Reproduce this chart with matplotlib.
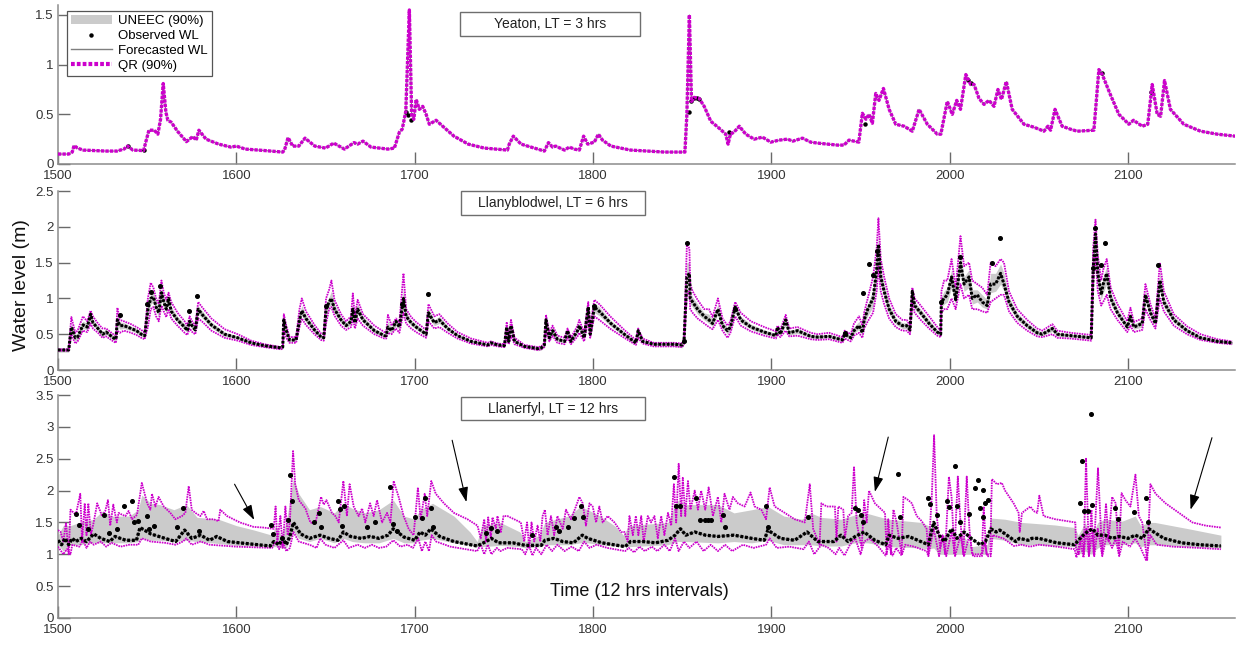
import matplotlib
matplotlib.use('Agg')
import matplotlib.pyplot as plt
from matplotlib.patches import Rectangle, Patch
from matplotlib.lines import Line2D
from matplotlib.ticker import FuncFormatter

plt.rcParams['font.family'] = ['Liberation Sans', 'DejaVu Sans']

# ---------------- Yeaton, LT = 3 hrs ----------------
yea_t = [1500, 1506, 1508, 1509, 1511, 1514, 1520, 1527, 1533, 1537, 1539, 1542, 1548, 1549.5,
         1551, 1554, 1556, 1557.5, 1559, 1560.5, 1561.6, 1563.5, 1567, 1572, 1575.6, 1577.5,
         1579, 1583, 1590, 1597, 1600, 1605, 1616, 1626, 1627, 1629, 1631.6, 1635, 1638.5,
         1644, 1650, 1654.6, 1660.6, 1666, 1668, 1671, 1675.5, 1685, 1688.6, 1691.4, 1693,
         1695, 1697, 1698.3, 1699.5, 1700.8, 1702.6, 1704.5, 1706.4, 1708.2, 1712, 1715.7,
         1722, 1730, 1739, 1752, 1753, 1755.3, 1759.6, 1769, 1772.7, 1775, 1777.3, 1779,
         1784, 1786.7, 1789.5, 1792.3, 1794.7, 1797, 1800.7, 1803, 1805.3, 1810, 1821, 1840,
         1851.5, 1852.6, 1854, 1855.2, 1856.7, 1859.5, 1862.3, 1866, 1870.7, 1874.4, 1875.7,
         1877, 1879, 1882, 1885.6, 1890.3, 1895, 1899.6, 1904.3, 1909, 1912, 1917.4, 1922,
         1926, 1937, 1940.7, 1943.5, 1949, 1951, 1953, 1954.7, 1956.6, 1958.5, 1960.3, 1962.8,
         1966, 1969.7, 1974.4, 1979, 1982.8, 1987.4, 1993, 1995, 1998.6, 2001.4, 2003.9, 2006,
         2009, 2011.7, 2013.6, 2016.4, 2019.2, 2022, 2024.8, 2027, 2029, 2031.7, 2035, 2041.6,
         2047.2, 2052.8, 2055, 2056.5, 2059, 2063, 2067.7, 2071.5, 2080.8, 2083.6, 2085.5,
         2090, 2094.8, 2100.4, 2103, 2107.9, 2111, 2113.5, 2116.3, 2118.2, 2120.4, 2123.7,
         2131.2, 2140.6, 2150, 2160]
yea_wl = [0.10, 0.10, 0.12, 0.185, 0.16, 0.14, 0.135, 0.13, 0.13, 0.15, 0.18, 0.14, 0.135, 0.24,
          0.34, 0.34, 0.30, 0.45, 0.81, 0.52, 0.44, 0.42, 0.33, 0.225, 0.276, 0.24,
          0.34, 0.25, 0.20, 0.17, 0.18, 0.15, 0.135, 0.12, 0.14, 0.266, 0.18, 0.18, 0.26,
          0.18, 0.16, 0.21, 0.15, 0.215, 0.20, 0.23, 0.17, 0.15, 0.16, 0.32, 0.35,
          0.53, 1.55, 0.49, 0.45, 0.65, 0.55, 0.58, 0.50, 0.40, 0.44, 0.38,
          0.28, 0.20, 0.16, 0.14, 0.20, 0.28, 0.20, 0.15, 0.13, 0.215, 0.17, 0.18,
          0.14, 0.17, 0.15, 0.14, 0.28, 0.20, 0.22, 0.30, 0.24, 0.18, 0.14, 0.12,
          0.12, 0.50, 1.50, 0.63, 0.67, 0.66, 0.58, 0.43, 0.36, 0.30, 0.20,
          0.30, 0.32, 0.38, 0.30, 0.25, 0.27, 0.22, 0.24, 0.25, 0.23, 0.26, 0.22,
          0.21, 0.19, 0.19, 0.24, 0.22, 0.51, 0.45, 0.50, 0.41, 0.71, 0.64, 0.76,
          0.55, 0.40, 0.38, 0.33, 0.55, 0.40, 0.30, 0.30, 0.63, 0.50, 0.64, 0.55,
          0.90, 0.80, 0.80, 0.66, 0.60, 0.64, 0.58, 0.75, 0.65, 0.83, 0.55, 0.40,
          0.37, 0.33, 0.38, 0.34, 0.55, 0.38, 0.35, 0.33, 0.34, 0.95, 0.90,
          0.70, 0.50, 0.40, 0.44, 0.38, 0.40, 0.80, 0.50, 0.48, 0.84, 0.55,
          0.40, 0.33, 0.30, 0.28]
# observed points that sit off the forecast track
yea_obs_t = [1539, 1548, 1695, 1696.1, 1698, 1853.9, 1854.8, 1856.5, 1858, 1859.5, 1876,
             1952.5, 2010, 2012, 2085.5, 2113]
yea_obs = [0.18, 0.14, 0.52, 0.49, 0.44, 0.52, 0.63, 0.66, 0.66, 0.65, 0.32,
           0.40, 0.85, 0.82, 0.92, 0.72]

# ---------------- Llanyblodwel, LT = 6 hrs ----------------
mid_t = [1500, 1506, 1507.5, 1509.7, 1511, 1514, 1516.4, 1518.3, 1519.6, 1522.4, 1525, 1527,
         1531, 1532.5, 1533.3, 1534.7, 1537, 1541, 1544, 1546.7, 1548.6, 1550.4, 1552, 1553.5,
         1555, 1556.5, 1558, 1559.3, 1560.7, 1562, 1563.5, 1567, 1571, 1572.5, 1573.8, 1575.6,
         1577, 1578.6, 1580.7, 1586, 1593.4, 1600.8, 1608.3, 1615.8, 1625, 1626, 1626.6, 1628,
         1629.8, 1633.5, 1635.4, 1636.7, 1639, 1643.8, 1647.5, 1649, 1650.3, 1652, 1653.3,
         1655, 1658.7, 1661.5, 1664.3, 1665.3, 1666.5, 1668, 1671, 1677.4, 1683, 1684, 1685,
         1687, 1689.5, 1691.4, 1693.7, 1695.2, 1698, 1700.8, 1706.4, 1707.7, 1711, 1713.8,
         1718.5, 1724, 1731.6, 1741, 1742.8, 1746.5, 1750.3, 1751.6, 1752.7, 1754, 1756,
         1761.5, 1769, 1771, 1772.7, 1773.6, 1775.5, 1777.3, 1780, 1784, 1785.7, 1787.6,
         1791.3, 1792.3, 1795, 1797.3, 1798.4, 1800.7, 1803.5, 1810, 1817.5, 1824, 1825.3,
         1827.8, 1834, 1840, 1845.5, 1850, 1851, 1852.6, 1854, 1854.5, 1855.8, 1858.6, 1862.3,
         1865, 1867, 1870, 1872.6, 1875.4, 1877, 1879.7, 1882.8, 1888.5, 1896, 1902.5, 1903.4,
         1905, 1908, 1910, 1914.6, 1922, 1925.8, 1932.3, 1939.8, 1941.1, 1944.5, 1946.3,
         1949.1, 1951, 1952, 1954, 1957, 1959, 1960, 1961.3, 1963.2, 1966, 1969.7, 1973.4,
         1975.8, 1977.7, 1979, 1980.3, 1983.7, 1988.4, 1993, 1994.9, 1995.3, 1996.8, 1998.6,
         2001, 2003.3, 2006, 2008, 2010.8, 2012.6, 2015.4, 2018.2, 2021, 2022.9, 2025.7,
         2028.5, 2030.4, 2033.2, 2037.8, 2043.4, 2049, 2051.9, 2057.5, 2060.3, 2067.7, 2075.2,
         2079.3, 2080.4, 2081.7, 2083, 2084.9, 2086, 2088, 2090.2, 2094, 2099.5, 2101.3,
         2103.2, 2107.9, 2109.7, 2112.5, 2115.3, 2117.8, 2120, 2125.6, 2133, 2140.6, 2150,
         2158.3]
mid_wl = [0.28, 0.28, 0.60, 0.45, 0.46, 0.63, 0.60, 0.78, 0.66, 0.58, 0.50, 0.53,
          0.45, 0.43, 0.70, 0.62, 0.62, 0.58, 0.55, 0.50, 0.48, 0.85, 1.00, 1.02,
          0.88, 0.80, 1.08, 0.95, 0.85, 1.00, 0.82, 0.70, 0.60, 0.55, 0.68, 0.60,
          0.56, 0.85, 0.78, 0.63, 0.50, 0.45, 0.38, 0.34, 0.31, 0.32, 0.70, 0.55,
          0.42, 0.42, 0.70, 0.83, 0.72, 0.56, 0.46, 0.45, 0.85, 0.95, 1.00,
          0.85, 0.70, 0.62, 0.68, 0.85, 0.66, 0.85, 0.70, 0.55, 0.48, 0.48, 0.60,
          0.55, 0.68, 0.60, 1.00, 0.75, 0.66, 0.60, 0.50, 0.80, 0.66, 0.70,
          0.58, 0.48, 0.40, 0.35, 0.38, 0.35, 0.34, 0.60, 0.40, 0.62, 0.40,
          0.33, 0.30, 0.31, 0.35, 0.70, 0.45, 0.55, 0.43, 0.40, 0.55, 0.40,
          0.55, 0.62, 0.45, 0.88, 0.50, 0.88, 0.82, 0.65, 0.50, 0.38, 0.55,
          0.40, 0.36, 0.36, 0.36, 0.35, 0.40, 1.30, 1.35, 1.00, 0.95, 0.85, 0.75,
          0.70, 0.65, 0.85, 0.62, 0.55, 0.60, 0.88, 0.70, 0.60, 0.53, 0.48, 0.60,
          0.50, 0.70, 0.52, 0.55, 0.47, 0.46, 0.47, 0.42, 0.50, 0.45, 0.55,
          0.62, 0.52, 0.70, 0.85, 1.00, 1.40, 1.75, 1.30, 1.10, 0.85, 0.68, 0.62,
          0.62, 0.56, 1.10, 0.90, 0.80, 0.65, 0.53, 0.50, 0.95, 1.00, 1.05,
          1.30, 0.98, 1.50, 1.20, 1.30, 1.00, 1.05, 0.95, 0.90, 1.20, 1.20,
          1.35, 1.20, 0.95, 0.75, 0.62, 0.52, 0.50, 0.58, 0.50, 0.48, 0.46,
          0.45, 1.40, 1.90, 1.35, 1.05, 1.20, 1.35, 1.00, 0.80, 0.60, 0.75,
          0.60, 0.65, 1.05, 0.80, 0.65, 1.25, 0.95, 0.70, 0.55, 0.45, 0.40,
          0.38]
mid_qr_lo = [0.27, 0.27, 0.50, 0.37, 0.40, 0.55, 0.53, 0.65, 0.58, 0.52, 0.45, 0.47,
             0.40, 0.38, 0.55, 0.52, 0.55, 0.52, 0.49, 0.45, 0.43, 0.60, 0.85, 0.88,
             0.75, 0.68, 0.90, 0.82, 0.74, 0.85, 0.72, 0.62, 0.52, 0.49, 0.58, 0.52,
             0.50, 0.72, 0.68, 0.55, 0.45, 0.41, 0.35, 0.32, 0.29, 0.30, 0.55, 0.45,
             0.38, 0.38, 0.60, 0.72, 0.63, 0.50, 0.42, 0.41, 0.65, 0.85, 0.88,
             0.76, 0.62, 0.56, 0.60, 0.72, 0.58, 0.72, 0.62, 0.50, 0.44, 0.44, 0.52,
             0.50, 0.58, 0.52, 0.80, 0.65, 0.58, 0.53, 0.45, 0.68, 0.58, 0.60,
             0.52, 0.44, 0.37, 0.33, 0.35, 0.33, 0.32, 0.45, 0.36, 0.48, 0.36,
             0.31, 0.28, 0.29, 0.32, 0.55, 0.40, 0.48, 0.38, 0.36, 0.45, 0.36,
             0.47, 0.52, 0.40, 0.70, 0.45, 0.75, 0.70, 0.57, 0.45, 0.35, 0.45,
             0.37, 0.33, 0.33, 0.33, 0.32, 0.36, 1.05, 1.10, 0.85, 0.80, 0.72, 0.65,
             0.60, 0.57, 0.70, 0.55, 0.45, 0.52, 0.75, 0.62, 0.54, 0.48, 0.44, 0.50,
             0.46, 0.55, 0.47, 0.48, 0.43, 0.42, 0.43, 0.38, 0.44, 0.40, 0.48,
             0.52, 0.45, 0.58, 0.68, 0.80, 1.10, 1.45, 1.10, 0.92, 0.72, 0.60, 0.55,
             0.55, 0.50, 0.95, 0.80, 0.70, 0.58, 0.48, 0.46, 0.80, 0.85, 0.85,
             1.00, 0.85, 1.20, 1.00, 1.05, 0.85, 0.85, 0.82, 0.80, 0.95, 1.00,
             1.05, 1.05, 0.82, 0.66, 0.55, 0.47, 0.46, 0.50, 0.45, 0.44, 0.42,
             0.41, 1.20, 1.60, 1.10, 0.90, 0.95, 1.05, 0.85, 0.70, 0.53, 0.62,
             0.53, 0.56, 0.85, 0.70, 0.58, 1.00, 0.82, 0.62, 0.50, 0.42, 0.38,
             0.36]
mid_qr_hi = [0.29, 0.29, 0.74, 0.52, 0.55, 0.75, 0.68, 0.83, 0.75, 0.65, 0.58, 0.58,
             0.50, 0.48, 0.87, 0.70, 0.68, 0.64, 0.60, 0.56, 0.52, 1.00, 1.22, 1.15,
             1.00, 0.92, 1.25, 1.08, 0.98, 1.08, 0.95, 0.80, 0.68, 0.62, 0.75, 0.66,
             0.62, 0.95, 0.88, 0.72, 0.57, 0.50, 0.41, 0.36, 0.32, 0.33, 0.78, 0.62,
             0.46, 0.46, 0.85, 1.00, 0.82, 0.63, 0.51, 0.50, 1.00, 1.12, 1.25,
             0.98, 0.78, 0.68, 0.75, 1.07, 0.75, 0.98, 0.78, 0.62, 0.53, 0.52, 0.77,
             0.62, 0.72, 0.66, 1.35, 0.85, 0.74, 0.67, 0.56, 0.92, 0.75, 0.78,
             0.65, 0.53, 0.44, 0.38, 0.40, 0.37, 0.36, 0.67, 0.45, 0.70, 0.45,
             0.35, 0.32, 0.33, 0.38, 0.77, 0.52, 0.62, 0.48, 0.45, 0.58, 0.45,
             0.62, 0.70, 0.52, 0.95, 0.60, 0.98, 0.92, 0.74, 0.56, 0.42, 0.58,
             0.44, 0.38, 0.38, 0.38, 0.37, 0.45, 1.75, 1.70, 1.20, 1.10, 0.98, 0.85,
             0.85, 0.74, 1.00, 0.72, 0.62, 0.68, 0.95, 0.80, 0.68, 0.60, 0.54, 0.62,
             0.56, 0.77, 0.58, 0.60, 0.52, 0.50, 0.52, 0.46, 0.55, 0.50, 0.65,
             0.75, 0.62, 0.80, 1.00, 1.30, 1.70, 2.12, 1.55, 1.30, 1.00, 0.78, 0.70,
             0.70, 0.62, 1.15, 1.00, 0.90, 0.75, 0.60, 0.55, 1.10, 1.25, 1.25,
             1.55, 1.15, 1.87, 1.45, 1.50, 1.25, 1.20, 1.15, 1.05, 1.50, 1.45,
             1.55, 1.50, 1.10, 0.85, 0.70, 0.58, 0.55, 0.64, 0.55, 0.52, 0.50,
             0.49, 1.70, 2.10, 1.60, 1.25, 1.40, 1.55, 1.15, 0.92, 0.68, 0.87,
             0.67, 0.72, 1.20, 0.92, 0.72, 1.50, 1.10, 0.78, 0.61, 0.50, 0.43,
             0.40]
mid_un_lo = [0.25, 0.25, 0.55, 0.40, 0.42, 0.58, 0.56, 0.70, 0.62, 0.55, 0.47, 0.50,
             0.42, 0.40, 0.62, 0.57, 0.58, 0.55, 0.52, 0.47, 0.45, 0.75, 0.92, 0.95,
             0.82, 0.74, 1.00, 0.88, 0.80, 0.93, 0.78, 0.66, 0.56, 0.52, 0.63, 0.56,
             0.53, 0.78, 0.73, 0.59, 0.47, 0.43, 0.36, 0.32, 0.29, 0.30, 0.62, 0.50,
             0.40, 0.40, 0.65, 0.76, 0.67, 0.53, 0.44, 0.43, 0.75, 0.88, 0.92,
             0.80, 0.66, 0.59, 0.64, 0.78, 0.62, 0.78, 0.66, 0.52, 0.46, 0.46, 0.56,
             0.52, 0.62, 0.56, 0.90, 0.70, 0.62, 0.57, 0.47, 0.74, 0.62, 0.65,
             0.55, 0.46, 0.38, 0.34, 0.36, 0.34, 0.33, 0.52, 0.38, 0.55, 0.38,
             0.32, 0.27, 0.28, 0.33, 0.62, 0.42, 0.51, 0.40, 0.38, 0.50, 0.38,
             0.51, 0.57, 0.42, 0.78, 0.47, 0.80, 0.76, 0.61, 0.47, 0.36, 0.50,
             0.38, 0.34, 0.34, 0.33, 0.31, 0.37, 1.15, 1.20, 0.92, 0.88, 0.78, 0.70,
             0.65, 0.61, 0.78, 0.58, 0.50, 0.56, 0.80, 0.66, 0.57, 0.50, 0.46, 0.55,
             0.48, 0.62, 0.49, 0.51, 0.45, 0.44, 0.45, 0.40, 0.47, 0.43, 0.51,
             0.57, 0.48, 0.64, 0.76, 0.88, 1.25, 1.58, 1.20, 1.00, 0.78, 0.64, 0.58,
             0.58, 0.53, 1.02, 0.85, 0.75, 0.61, 0.50, 0.48, 0.88, 0.92, 0.95,
             1.15, 0.90, 1.35, 1.10, 1.15, 0.92, 0.95, 0.88, 0.85, 1.08, 1.10,
             1.20, 1.10, 0.88, 0.70, 0.58, 0.49, 0.48, 0.54, 0.47, 0.46, 0.44,
             0.43, 1.30, 1.75, 1.22, 0.98, 1.08, 1.20, 0.92, 0.75, 0.57, 0.68,
             0.57, 0.60, 0.95, 0.75, 0.61, 1.12, 0.88, 0.66, 0.52, 0.43, 0.38,
             0.36]
mid_un_hi = [0.30, 0.30, 0.66, 0.50, 0.50, 0.68, 0.65, 0.80, 0.70, 0.62, 0.54, 0.56,
             0.48, 0.46, 0.80, 0.67, 0.66, 0.61, 0.58, 0.53, 0.51, 0.92, 1.08, 1.08,
             0.95, 0.86, 1.15, 1.02, 0.92, 1.05, 0.88, 0.75, 0.64, 0.59, 0.72, 0.64,
             0.60, 0.90, 0.83, 0.67, 0.53, 0.47, 0.40, 0.36, 0.33, 0.34, 0.76, 0.60,
             0.44, 0.44, 0.78, 0.90, 0.77, 0.60, 0.49, 0.48, 0.92, 1.02, 1.10,
             0.92, 0.74, 0.66, 0.72, 0.95, 0.70, 0.92, 0.75, 0.58, 0.51, 0.50, 0.68,
             0.58, 0.70, 0.64, 1.15, 0.80, 0.70, 0.64, 0.53, 0.86, 0.70, 0.75,
             0.61, 0.50, 0.42, 0.37, 0.39, 0.36, 0.35, 0.64, 0.42, 0.66, 0.42,
             0.34, 0.32, 0.33, 0.37, 0.74, 0.48, 0.59, 0.46, 0.42, 0.57, 0.42,
             0.59, 0.66, 0.48, 0.92, 0.55, 0.94, 0.88, 0.69, 0.53, 0.40, 0.57,
             0.42, 0.38, 0.38, 0.38, 0.37, 0.43, 1.50, 1.50, 1.10, 1.02, 0.92, 0.80,
             0.78, 0.70, 0.92, 0.67, 0.60, 0.64, 0.92, 0.75, 0.64, 0.56, 0.51, 0.62,
             0.53, 0.74, 0.55, 0.58, 0.50, 0.49, 0.50, 0.45, 0.53, 0.48, 0.60,
             0.68, 0.56, 0.76, 0.92, 1.12, 1.55, 1.90, 1.42, 1.20, 0.92, 0.73, 0.66,
             0.66, 0.60, 1.14, 0.95, 0.85, 0.70, 0.56, 0.53, 1.02, 1.10, 1.15,
             1.40, 1.08, 1.65, 1.30, 1.40, 1.12, 1.12, 1.05, 0.98, 1.35, 1.35,
             1.48, 1.35, 1.02, 0.80, 0.66, 0.56, 0.53, 0.62, 0.53, 0.50, 0.49,
             0.48, 1.55, 2.00, 1.48, 1.15, 1.30, 1.45, 1.08, 0.86, 0.64, 0.80,
             0.64, 0.70, 1.12, 0.86, 0.70, 1.38, 1.02, 0.75, 0.58, 0.48, 0.43,
             0.40]
mid_obs_t = [1534.7, 1550, 1552.2, 1557, 1573.5, 1578, 1650, 1692.7, 1707.7, 1800.5, 1851,
             1852.6, 1879.5, 1941.1, 1951.2, 1954.7, 1957, 1959, 1995, 2006, 2023.8, 2028,
             2080.4, 2081.7, 2084.9, 2087, 2116.6]
mid_obs = [0.77, 0.92, 1.09, 1.17, 0.83, 1.03, 0.90, 0.92, 1.06, 0.90, 0.40,
           1.78, 0.85, 0.52, 1.07, 1.48, 1.33, 1.66, 0.95, 1.58, 1.50, 1.84,
           1.42, 1.98, 1.47, 1.78, 1.47]

# ---------------- Llanerfyl, LT = 12 hrs ----------------
ll_t = [1500, 1502, 1504, 1506, 1508, 1510, 1513, 1516, 1520, 1524, 1529, 1532, 1538, 1544,
        1546, 1552, 1560, 1566, 1571, 1575, 1580, 1585, 1589, 1595, 1605, 1612, 1619, 1621,
        1624, 1626, 1628, 1630, 1632, 1636, 1641, 1647, 1652, 1657, 1660, 1664, 1670, 1675,
        1680, 1685, 1688, 1694, 1700, 1703, 1706, 1709, 1714, 1722, 1735, 1740, 1743, 1747,
        1755, 1762, 1771, 1773, 1778, 1783, 1789, 1794, 1797, 1805, 1818, 1821, 1828, 1835,
        1842, 1846, 1849, 1852, 1857, 1863, 1870, 1879, 1889, 1896, 1898, 1905, 1913, 1920,
        1926, 1935, 1939, 1943, 1947, 1952, 1958, 1964, 1966, 1971, 1977, 1988, 1991, 1994,
        1997, 2001, 2004, 2008, 2012, 2017, 2020, 2023, 2026, 2028, 2037, 2039, 2044, 2046,
        2050, 2060, 2070, 2074, 2077, 2080, 2083, 2087, 2091, 2095, 2100, 2104, 2108, 2111.6,
        2120, 2130, 2140, 2152]
ll_wl = [1.22, 1.15, 1.25, 1.15, 1.25, 1.20, 1.25, 1.20, 1.32, 1.25, 1.20, 1.28, 1.22, 1.22,
         1.42, 1.32, 1.25, 1.20, 1.38, 1.25, 1.30, 1.22, 1.28, 1.20, 1.17, 1.15, 1.13, 1.20,
         1.15, 1.25, 1.15, 1.28, 1.50, 1.32, 1.25, 1.30, 1.25, 1.22, 1.35, 1.28, 1.25, 1.28,
         1.25, 1.30, 1.40, 1.27, 1.22, 1.35, 1.30, 1.40, 1.28, 1.20, 1.13, 1.20, 1.25, 1.18,
         1.18, 1.14, 1.14, 1.22, 1.25, 1.20, 1.18, 1.30, 1.25, 1.18, 1.12, 1.20, 1.20, 1.18,
         1.22, 1.30, 1.40, 1.30, 1.35, 1.30, 1.28, 1.30, 1.25, 1.22, 1.38, 1.25, 1.22, 1.35,
         1.20, 1.20, 1.30, 1.20, 1.28, 1.35, 1.22, 1.15, 1.30, 1.25, 1.28, 1.15, 1.50, 1.30,
         1.20, 1.40, 1.25, 1.35, 1.25, 1.15, 1.20, 1.40, 1.35, 1.38, 1.20, 1.25, 1.22, 1.25,
         1.25, 1.18, 1.15, 1.28, 1.35, 1.40, 1.30, 1.30, 1.25, 1.28, 1.25, 1.30, 1.25, 1.40,
         1.25, 1.18, 1.15, 1.13]
ll_qr_hi_t = [1500, 1501.5, 1503, 1504.5, 1506, 1507, 1510, 1512.5, 1513.5, 1515, 1516, 1517,
              1518.5, 1520, 1522, 1524.7, 1526.5, 1528, 1529.3, 1531, 1533, 1534, 1536, 1537.8,
              1539.6, 1541.5, 1544.3, 1547, 1550, 1551.8, 1552.7, 1554.6, 1556.4, 1559.3, 1563,
              1565.8, 1569.5, 1571.4, 1573.3, 1575, 1577, 1579.8, 1581.7, 1583.6, 1587.3, 1590,
              1591, 1594.8, 1602, 1609.7, 1615, 1621, 1622, 1623, 1624.7, 1626, 1627.5, 1628.8,
              1630, 1631.8, 1633, 1635, 1638.7, 1641.5, 1644.3, 1646, 1647.5, 1649, 1650.5,
              1653.6, 1655.5, 1657.4, 1660, 1662, 1663.5, 1665.8, 1668.6, 1670.5, 1672.3, 1675,
              1677, 1678.9, 1681.7, 1684.5, 1686.4, 1688.2, 1691, 1693.8, 1696.6, 1699.4,
              1701.8, 1703.3, 1705.6, 1707, 1709.3, 1711.8, 1716.4, 1722, 1729.6, 1735.2, 1737,
              1739, 1740, 1741.2, 1742.7, 1743.6, 1745.5, 1746.4, 1748.3, 1749.8, 1752, 1755.8,
              1759.5, 1761.4, 1763, 1764.2, 1765.5, 1767, 1768.9, 1770.4, 1771.7, 1773, 1774.5,
              1776.4, 1778.2, 1780, 1783, 1784.8, 1787.6, 1790.4, 1792.3, 1794.2, 1796, 1798,
              1799.8, 1801.7, 1803.5, 1805.4, 1808.2, 1812, 1815.7, 1817.6, 1819.4, 1820.4,
              1822.3, 1824, 1825.4, 1827, 1828.4, 1830.7, 1832.5, 1834.4, 1836.3, 1838.2, 1840,
              1842, 1843.8, 1845.3, 1846.6, 1848, 1849.4, 1850.3, 1851.7, 1853.2, 1854.6, 1857,
              1858.8, 1860.6, 1862.9, 1864.8, 1867.2, 1870, 1871.9, 1873.7, 1876.5, 1878.4,
              1881.2, 1885, 1888.3, 1890.6, 1894.3, 1897, 1899, 1901.8, 1907.5, 1913, 1918.7,
              1921.5, 1923.4, 1927, 1928, 1931, 1935.6, 1936.5, 1937.5, 1940.3, 1941.2, 1943,
              1945, 1946.3, 1947.8, 1949.1, 1950.6, 1952, 1953.4, 1954.7, 1958, 1963.7, 1964.6,
              1965.5, 1967, 1968.4, 1970.2, 1973, 1974, 1976.8, 1978.7, 1981.5, 1984.3, 1987,
              1988, 1989.9, 1991.2, 1992.7, 1994.6, 1995.9, 1997.4, 1999.5, 2001, 2002.6, 2004.5,
              2006, 2007.6, 2009.5, 2011, 2012.5, 2018, 2019, 2020.5, 2022.7, 2023.6, 2026.4,
              2029.2, 2031, 2035.8, 2038.6, 2039.2, 2040.5, 2045.2, 2047, 2049, 2050.2, 2052.6,
              2059.2, 2070.4, 2070.8, 2072.3, 2073.8, 2075.1, 2076.4, 2078, 2079.4, 2080.7,
              2083.1, 2085.4, 2087.6, 2089, 2091, 2093, 2094.8, 2096.3, 2098.5, 2101.3, 2104.1,
              2106, 2107.9, 2110.7, 2112.5, 2115.4, 2121, 2128.5, 2136, 2143.5, 2151.9]
ll_qr_hi = [1.38, 1.35, 1.20, 1.50, 1.00, 1.70, 1.62, 1.95, 1.20, 1.80, 1.30, 1.80,
            1.30, 1.50, 1.80, 1.60, 1.68, 1.85, 1.45, 1.78, 1.50, 1.65, 1.62, 1.60,
            1.68, 1.55, 1.62, 2.12, 1.80, 1.70, 1.95, 1.75, 1.90, 1.75, 1.65,
            1.55, 1.60, 1.65, 2.07, 1.70, 1.65, 1.60, 1.68, 1.55, 1.55, 1.52,
            1.70, 1.60, 1.50, 1.43, 1.42, 1.40, 1.75, 1.20, 1.60, 1.10, 1.75, 1.30,
            1.50, 2.62, 2.10, 1.85, 1.72, 1.50, 1.48, 1.70, 1.90, 1.78, 1.85,
            1.65, 1.60, 1.50, 2.15, 1.60, 2.10, 1.75, 1.60, 1.72, 1.50, 1.80,
            1.60, 1.85, 1.50, 1.65, 1.50, 2.15, 1.90, 1.60, 1.40, 1.30,
            2.05, 1.55, 1.95, 1.60, 2.15, 1.95, 1.80, 1.65, 1.55, 1.45, 1.25,
            1.55, 1.20, 1.58, 1.25, 1.58, 1.40, 1.60, 1.35, 1.60, 1.60, 1.55,
            1.50, 1.20, 1.50, 1.10, 1.50, 1.20, 1.45, 1.20, 1.60, 1.70, 1.30,
            1.60, 1.30, 1.60, 1.40, 1.70, 1.55, 1.75, 1.90, 1.80, 1.45, 1.80,
            1.75, 1.50, 1.75, 1.50, 1.60, 1.50, 1.35, 1.35, 1.20, 1.60,
            1.30, 1.60, 1.30, 1.60, 1.20, 1.60, 1.50, 1.60, 1.25, 1.60, 1.30,
            1.65, 1.45, 2.10, 1.50, 2.42, 1.60, 2.20, 1.60, 2.15, 1.70, 2.00,
            1.70, 2.00, 1.70, 2.05, 1.60, 1.90, 1.50, 1.95, 1.70, 1.90,
            1.80, 1.75, 1.97, 1.75, 1.70, 1.55, 2.05, 1.75, 1.65, 1.55, 1.50,
            2.10, 1.40, 1.15, 1.80, 1.75, 1.75, 1.20, 1.75, 1.70, 1.25, 1.60,
            1.65, 2.38, 1.50, 1.30, 1.10, 1.85, 1.50, 2.00, 1.80, 1.65, 1.00,
            1.55, 1.00, 1.70, 1.50, 1.00, 1.90, 1.85, 1.80, 1.60, 1.52, 1.40,
            1.00, 1.90, 2.87, 1.60, 1.10, 1.30, 1.00, 2.22, 1.90, 1.00, 2.22,
            1.50, 1.00, 2.22, 1.40, 1.00, 1.00, 1.75, 1.00, 1.00, 2.18, 2.10,
            2.12, 2.00, 1.80, 1.65, 1.35, 1.65, 1.75, 1.68, 1.65, 1.92, 1.60,
            1.55, 1.50, 1.10, 1.00, 1.30, 1.00, 2.50, 1.00, 1.70, 1.00,
            2.35, 1.00, 1.80, 1.20, 1.90, 1.80, 1.00, 1.96, 1.85, 1.75, 2.25,
            1.60, 1.50, 0.91, 2.10, 1.95, 1.80, 1.65, 1.50, 1.45, 1.42]
ll_qr_lo_t = [1500, 1503, 1505, 1507, 1508, 1512, 1514, 1516, 1518, 1520, 1524, 1527, 1530,
              1535, 1540, 1545, 1547, 1552, 1560, 1566, 1570, 1572, 1575, 1580, 1585, 1590,
              1600, 1610, 1620, 1622, 1624, 1626, 1628, 1630, 1632, 1635, 1641, 1645, 1647,
              1650, 1655, 1660, 1663, 1668, 1672, 1676, 1680, 1684, 1688, 1692, 1696, 1699,
              1702, 1704, 1706, 1708, 1709.5, 1712, 1720, 1735, 1737, 1739, 1741, 1743, 1746,
              1748, 1752, 1760, 1762, 1764, 1766, 1768, 1771, 1774, 1777, 1780, 1784, 1788,
              1792, 1795, 1798, 1802, 1808, 1818, 1820, 1823, 1826, 1829, 1833, 1836, 1840,
              1843, 1846, 1848, 1851, 1854, 1858, 1862, 1866, 1870, 1874, 1878, 1884, 1890,
              1897, 1899, 1903, 1910, 1918, 1921, 1924, 1928, 1932, 1936, 1938, 1941, 1944,
              1947, 1950, 1952, 1955, 1960, 1964, 1966, 1968, 1970, 1973, 1975, 1980, 1987,
              1988, 1991, 1994, 1996, 1998, 2001, 2003, 2006, 2008, 2011, 2013, 2018, 2019.5,
              2021, 2023, 2024, 2030, 2036, 2040, 2045, 2050, 2060, 2070, 2071, 2073, 2075,
              2076.5, 2078, 2080, 2081, 2083, 2085.5, 2088, 2091, 2093, 2095, 2097, 2101, 2104,
              2107, 2110, 2112.5, 2116, 2125, 2140, 2152]
ll_qr_lo = [1.12, 1.00, 1.08, 1.00, 1.15, 1.12, 1.22, 1.10, 1.20, 1.15, 1.20, 1.12, 1.18,
            1.12, 1.15, 1.15, 1.25, 1.20, 1.18, 1.15, 1.20, 1.25, 1.15, 1.20, 1.15, 1.14,
            1.12, 1.11, 1.10, 1.20, 1.08, 1.20, 1.05, 1.10, 1.35, 1.20, 1.15, 1.10, 1.25,
            1.15, 1.10, 1.22, 1.10, 1.15, 1.10, 1.15, 1.10, 1.12, 1.22, 1.12, 1.15, 1.10,
            1.25, 1.05, 1.20, 1.05, 1.30, 1.20, 1.12, 1.05, 1.15, 1.00, 1.15, 1.00, 1.10,
            1.05, 1.10, 1.08, 1.00, 1.15, 0.98, 1.10, 1.00, 1.15, 1.05, 1.15, 1.05, 1.12,
            1.05, 1.20, 1.10, 1.15, 1.10, 1.05, 1.10, 1.03, 1.12, 1.05, 1.12, 1.05, 1.15,
            1.05, 1.25, 1.05, 1.20, 1.10, 1.20, 1.05, 1.15, 1.05, 1.15, 1.05, 1.15, 1.10,
            1.15, 1.25, 1.10, 1.12, 1.08, 1.20, 1.00, 1.15, 1.10, 1.00, 1.10, 0.98, 1.15,
            1.25, 1.00, 1.20, 1.25, 1.12, 0.98, 1.15, 0.98, 1.10, 0.98, 1.15, 1.12, 1.05,
            0.97, 1.40, 0.97, 1.30, 0.97, 1.35, 0.97, 1.30, 0.97, 1.30, 0.97, 0.97, 1.20,
            0.97, 0.97, 1.30, 1.25, 1.13, 1.15, 1.12, 1.15, 1.12, 1.08, 0.95, 1.20, 0.95,
            1.40, 0.97, 1.35, 0.97, 1.40, 0.97, 1.30, 1.10, 1.25, 0.97, 1.20, 1.12, 1.25,
            1.10, 0.91, 1.30, 1.15, 1.12, 1.10, 1.08]
ll_un_t = [1500, 1503, 1507, 1512, 1520, 1525, 1530, 1540, 1545, 1547, 1552, 1557, 1565, 1572,
           1578, 1590, 1600, 1610, 1620, 1622, 1625, 1628, 1632, 1635, 1641, 1647, 1655, 1660,
           1665, 1672, 1680, 1688, 1694, 1700, 1703, 1710, 1722, 1731, 1735, 1738, 1748, 1759,
           1762, 1770, 1773, 1786, 1793, 1797, 1804, 1812, 1817, 1820, 1842, 1847, 1852, 1870,
           1879, 1889, 1898, 1907, 1917, 1922, 1928, 1939, 1947, 1954, 1965.5, 1984, 1988,
           1991, 1994, 1998, 2002, 2006, 2010, 2012, 2021, 2022.7, 2031, 2040.5, 2049.8, 2059,
           2070, 2072, 2076, 2079, 2083, 2087, 2096.6, 2104, 2107, 2111.6, 2115, 2134, 2152]
ll_un_lo = [1.15, 1.05, 1.15, 1.15, 1.18, 1.18, 1.18, 1.18, 1.20, 1.25, 1.22, 1.22, 1.20, 1.22,
            1.20, 1.17, 1.14, 1.13, 1.12, 1.12, 1.10, 1.10, 1.35, 1.25, 1.20, 1.25, 1.18, 1.25,
            1.20, 1.18, 1.18, 1.25, 1.18, 1.18, 1.22, 1.25, 1.18, 1.14, 1.12, 1.12, 1.14, 1.12,
            1.10, 1.12, 1.15, 1.15, 1.18, 1.18, 1.15, 1.13, 1.12, 1.12, 1.15, 1.20, 1.20, 1.18,
            1.20, 1.18, 1.22, 1.15, 1.15, 1.15, 1.13, 1.13, 1.18, 1.18, 1.12, 1.10, 1.08,
            1.10, 1.00, 1.00, 1.00, 1.00, 1.00, 1.00, 1.00, 1.25, 1.22, 1.15, 1.15, 1.13,
            1.12, 1.00, 1.05, 1.00, 1.10, 1.15, 1.15, 1.18, 1.12, 1.15, 1.15, 1.12, 1.10]
ll_un_hi = [1.30, 1.45, 1.45, 1.50, 1.55, 1.68, 1.60, 1.60, 1.70, 1.93, 1.80, 1.78, 1.70, 1.78,
            1.58, 1.55, 1.45, 1.38, 1.30, 1.45, 1.30, 1.50, 2.20, 1.95, 1.70, 1.75, 1.65, 1.80,
            1.72, 1.65, 1.70, 1.85, 1.60, 1.55, 1.70, 1.80, 1.60, 1.35, 1.20, 1.45, 1.50, 1.35,
            1.20, 1.30, 1.50, 1.60, 1.75, 1.70, 1.60, 1.45, 1.30, 1.45, 1.50, 1.85, 1.78, 1.78,
            1.65, 1.70, 1.75, 1.60, 1.55, 1.65, 1.58, 1.55, 1.62, 1.64, 1.55, 1.50, 1.45,
            1.40, 1.20, 1.35, 1.20, 1.35, 1.20, 1.12, 1.15, 1.57, 1.55, 1.50, 1.48, 1.46,
            1.42, 1.30, 1.50, 1.25, 1.50, 1.55, 1.52, 1.60, 1.45, 1.50, 1.50, 1.40, 1.30]
ll_obs_t = [1510.3, 1512, 1516.6, 1526, 1528.4, 1533, 1537.2, 1541.5, 1542.8, 1544.7, 1550,
            1550.8, 1553.6, 1566.7, 1570, 1578.9, 1619.4, 1620.6, 1625.6, 1628.8, 1630, 1631.2,
            1643.4, 1646.2, 1647.5, 1656.8, 1658, 1660.6, 1659.3, 1673, 1678, 1686, 1687.9,
            1690, 1700.4, 1704.3, 1705.6, 1709, 1710.5, 1739.9, 1742.7, 1746.4, 1766, 1779.2,
            1781, 1785.7, 1789.5, 1793.2, 1794.2, 1845.3, 1846.6, 1849, 1857.8, 1859.7, 1862.5,
            1864.4, 1866.3, 1872.8, 1873.7, 1897.2, 1898.1, 1920.6, 1946.8, 1948.3, 1950.2,
            1951.5, 1971.2, 1972.1, 1988, 1989, 1992.7, 1998.3, 1999.3, 2003, 2003.9, 2005.8,
            2010.5, 2014.2, 2016.1, 2017, 2018.5, 2018.9, 2019.9, 2021.2, 2073.2, 2074.2,
            2075.1, 2077.5, 2079.2, 2079.8, 2092.9, 2094.4, 2103.2, 2110.1, 2111.2]
ll_obs = [1.63, 1.46, 1.39, 1.62, 1.33, 1.39, 1.76, 1.84, 1.51, 1.53, 1.60,
          1.40, 1.45, 1.43, 1.72, 1.37, 1.46, 1.32, 1.26, 1.54, 2.24, 1.83,
          1.50, 1.65, 1.43, 1.84, 1.71, 1.76, 1.44, 1.43, 1.50, 2.06, 1.48,
          1.36, 1.59, 1.57, 1.88, 1.73, 1.43, 1.33, 1.41, 1.36, 1.30, 1.43,
          1.36, 1.43, 1.57, 1.76, 1.59, 2.22, 1.76, 1.76, 1.88, 1.54, 1.54,
          1.54, 1.54, 1.62, 1.43, 1.76, 1.43, 1.59, 1.72, 1.69, 1.62,
          1.50, 2.26, 1.59, 1.88, 1.79, 1.62, 1.84, 1.74, 2.39, 1.76, 1.51,
          1.64, 2.04, 2.17, 1.72, 1.58, 2.01, 1.80, 1.85, 1.80, 2.46,
          1.68, 1.68, 3.20, 1.77, 1.72, 1.55, 1.67, 1.89, 1.51]

# arrows marking the flat QR recessions (tail -> head, data coords)
arrow_tails = [(1599, 2.10), (1721, 2.79), (1965.5, 2.84), (2147, 2.83)]
arrow_heads = [(1610, 1.54), (1729, 1.82), (1958, 1.98), (2135, 1.70)]

MAG = '#cc00cc'
BAND = '#cbcbcb'
FCST = '#7f7f7f'
DENSE = (0, (0.9, 0.5))
DENSE_TOP = (0, (1.0, 0.35))

fig = plt.figure(figsize=(12.47, 6.51), dpi=100)
ax1 = fig.add_axes([0.0465, 0.7481, 0.944, 0.2442])
ax2 = fig.add_axes([0.0465, 0.4316, 0.944, 0.2750])
ax3 = fig.add_axes([0.0465, 0.0507, 0.944, 0.3425])


def style_axis(ax, ymax, yticks):
    ax.set_xlim(1500, 2160)
    ax.set_ylim(0, ymax)
    ax.set_xticks(range(1500, 2101, 100))
    ax.set_yticks(yticks)
    ax.yaxis.set_major_formatter(FuncFormatter(lambda v, p: f'{v:g}'))
    for s in ('top', 'right'):
        ax.spines[s].set_visible(False)
    for s in ('left', 'bottom'):
        ax.spines[s].set_color('#8c8c8c')
        ax.spines[s].set_linewidth(1.1)
    ax.tick_params(direction='in', length=8.5, width=1, color='#6a6a6a',
                   labelsize=9.5, labelcolor='#333333')
    ax.tick_params(axis='x', pad=4)
    ax.tick_params(axis='y', pad=3)


def title_box(ax, x0, y0, w, h, label):
    ax.add_patch(Rectangle((x0, y0), w, h, transform=ax.transAxes, facecolor='white',
                           edgecolor='#6e6e6e', lw=1, zorder=6, clip_on=False))
    ax.text(x0 + w / 2, y0 + h / 2, label, transform=ax.transAxes, ha='center',
            va='center', fontsize=10, color='#222222', zorder=7)


# top panel
ax1.plot(yea_t, yea_wl, color=FCST, lw=0.8, zorder=2)
ax1.plot(yea_obs_t, yea_obs, ls='none', marker='o', ms=2.2, color='k', zorder=3)
ax1.plot(yea_t, yea_wl, color=MAG, lw=2.4, ls=DENSE_TOP, zorder=4)
style_axis(ax1, 1.6, [0, 0.5, 1, 1.5])
title_box(ax1, 0.3415, 0.805, 0.153, 0.151, 'Yeaton, LT = 3 hrs')

# middle panel
ax2.fill_between(mid_t, mid_un_lo, mid_un_hi, color=BAND, lw=0, zorder=1)
ax2.plot(mid_t, mid_wl, color=FCST, lw=0.8, zorder=2)
ax2.plot(mid_t, mid_qr_lo, color=MAG, lw=1.3, ls=DENSE, zorder=3)
ax2.plot(mid_t, mid_qr_hi, color=MAG, lw=1.3, ls=DENSE, zorder=3)
ax2.plot(mid_t, mid_wl, color='k', lw=2.2, ls=DENSE, zorder=4)
ax2.plot(mid_obs_t, mid_obs, ls='none', marker='o', ms=2.6, color='k', zorder=5)
style_axis(ax2, 2.5, [0, 0.5, 1, 1.5, 2, 2.5])
title_box(ax2, 0.3424, 0.866, 0.1563, 0.134, 'Llanyblodwel, LT = 6 hrs')

# bottom panel
ax3.fill_between(ll_un_t, ll_un_lo, ll_un_hi, color=BAND, lw=0, zorder=1)
ax3.plot(ll_t, ll_wl, color=FCST, lw=0.8, zorder=2)
ax3.plot(ll_qr_lo_t, ll_qr_lo, color=MAG, lw=1.3, ls=DENSE, zorder=3)
ax3.plot(ll_qr_hi_t, ll_qr_hi, color=MAG, lw=1.3, ls=DENSE, zorder=3)
ax3.plot(ll_t, ll_wl, color='k', lw=2.4, ls=DENSE, zorder=4)
ax3.plot(ll_obs_t, ll_obs, ls='none', marker='o', ms=2.6, color='k', zorder=5)
for tail, head in zip(arrow_tails, arrow_heads):
    ax3.annotate('', xy=head, xytext=tail,
                 arrowprops=dict(arrowstyle='-|>,head_length=0.9,head_width=0.3',
                                 color='k', lw=0.8, shrinkA=0, shrinkB=0))
style_axis(ax3, 3.5, [0, 0.5, 1, 1.5, 2, 2.5, 3, 3.5])
title_box(ax3, 0.3424, 0.888, 0.1563, 0.103, 'Llanerfyl, LT = 12 hrs')
ax3.text(0.494, 0.117, 'Time (12 hrs intervals)', transform=ax3.transAxes,
         ha='center', va='center', fontsize=13, color='#111111')

fig.text(0.017, 0.562, 'Water level (m)', rotation=90, ha='center', va='center',
         fontsize=14, color='#111111')

handles = [Patch(facecolor=BAND, edgecolor='none'),
           Line2D([], [], ls='none', marker='o', ms=2.2, color='k'),
           Line2D([], [], color=FCST, lw=1),
           Line2D([], [], color=MAG, lw=3, ls=DENSE)]
labels = ['UNEEC (90%)', 'Observed WL', 'Forecasted WL', 'QR (90%)']
leg = ax1.legend(handles, labels, loc='upper left', bbox_to_anchor=(0.0076, 0.962),
                 fontsize=9.5, handlelength=3.1, handletextpad=0.5, labelspacing=0.2,
                 borderpad=0.3, borderaxespad=0, fancybox=False, framealpha=1)
leg.get_frame().set_edgecolor('#555555')
leg.get_frame().set_linewidth(0.9)
leg.set_zorder(8)

fig.savefig('out.png', dpi=100)
